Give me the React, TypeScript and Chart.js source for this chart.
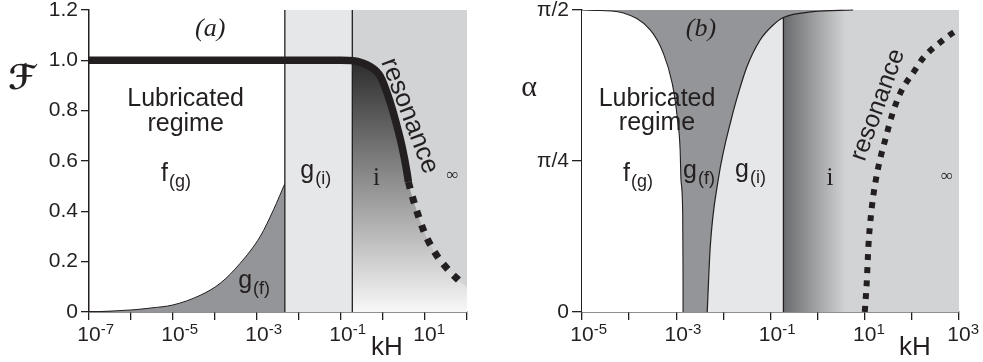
import { useEffect, useRef } from 'react';
import { Chart, registerables } from 'chart.js';

Chart.register(...registerables);

// ---------- shared styling ----------
const INK = '#231f20';
const DARK_GRAY = '#939598';
const LIGHT_GRAY = '#e6e7e8';
const MID_GRAY = '#d1d3d4';
const SANS = '"Liberation Sans", Arial, Helvetica, sans-serif';
const SERIF = '"Liberation Serif", "DejaVu Serif", "Times New Roman", serif';
const SCRIPT = '"DejaVu Serif", "DejaVu Sans", serif';
const TICK_SIZE = 21;
const TICK_LEN = 8;
const TICK_PAD = 3;

// ---------- panel (a) data ----------
const aXTickExponents = [-7, -6, -5, -4, -3, -2, -1, 0, 1, 2];
const aXLabelExponents = [-7, -5, -3, -1, 1];
const aYTickValues = [0, 0.2, 0.4, 0.6, 0.8, 1.0, 1.2];
const aYTickLabels = ['0', '0.2', '0.4', '0.6', '0.8', '1.0', '1.2'];
const aXMin = 1e-7;
const aXMax = 1e2;
const aYMax = 1.2;

// F(kH): solid part
const aForceKH = [1e-7, 1e-3, 0.1, 0.196, 0.316, 0.5, 0.865, 1.34, 1.97, 2.84, 3.74, 4.02];
const aForceF = [1.0, 1.0, 1.0, 0.998, 0.99, 0.975, 0.936, 0.856, 0.763, 0.657, 0.553, 0.517];
// F(kH): resonance (dotted) part
const aResonanceKH = [4.02, 5.28, 9.16, 13.5, 20.9, 36.1, 69.8];
const aResonanceF = [0.517, 0.445, 0.326, 0.266, 0.215, 0.167, 0.119];
const aEdgeF = 0.1; // shaded boundary at the right edge
// g(f) boundary
const aGfKH = [1e-7, 1e-6, 3e-6, 1e-5, 4.4e-5, 1.33e-4, 4e-4, 1.19e-3, 2.47e-3, 4.6e-3];
const aGfF = [0.0, 0.008, 0.016, 0.028, 0.066, 0.114, 0.194, 0.3, 0.406, 0.51];
// regime boundaries g(f)|g(i) and g(i)|i
const aRegimeBounds = [4.6e-3, 0.186];

// ---------- panel (b) data ----------
const bXTickExponents = [-5, -4, -3, -2, -1, 0, 1, 2, 3];
const bXLabelExponents = [-5, -3, -1, 1, 3];
const bYTickValues = [0, 0.7853981634, 1.5707963268];
const bYTickLabels = ['0', 'π/4', 'π/2'];
const bXMin = 1e-5;
const bXMax = 1e3;
const bYMax = 1.5707963268;

// f(g) | g(f) boundary
const bLeftKH = [1e-5, 2.45e-5, 7.6e-5, 2.8e-4, 5.3e-4, 8.2e-4, 1.05e-3, 1.21e-3, 1.26e-3, 1.37e-3, 1.39e-3, 1.395e-3];
const bLeftAlpha = [1.5708, 1.568, 1.555, 1.467, 1.347, 1.19, 1.014, 0.842, 0.687, 0.515, 0.25, 0];
// g(f) | g(i) boundary, continuing along the top
const bRightKH = [4.54e-3, 5.26e-3, 7.76e-3, 0.0151, 0.0228, 0.0316, 0.0603, 0.114, 0.188, 0.8, 5.66];
const bRightAlpha = [0, 0.338, 0.687, 1.014, 1.17, 1.276, 1.415, 1.493, 1.532, 1.562, 1.5708];
// g(i) | i boundary
const bRegimeBound = 0.188;
// resonance curve
const bResonanceKH = [10, 11, 12, 13.5, 15.5, 18.2, 21.4, 27.5, 38, 56.9, 117, 174, 513, 912];
const bResonanceAlpha = [0, 0.15, 0.35, 0.5, 0.62, 0.72, 0.8, 0.9, 1.025, 1.139, 1.259, 1.321, 1.424, 1.467];

// ---------- helpers ----------
type Pt = { x: number; y: number };
const pts = (xs: number[], ys: number[]): Pt[] => xs.map((x, i) => ({ x, y: ys[i] }));

type Label = {
  text: string;
  sub?: string;
  x: number;
  y: number;
  pixel?: boolean;
  font: string;
  subFont?: string;
  subDy?: number;
  align?: CanvasTextAlign;
  baseline?: CanvasTextBaseline;
  rotate?: number;
};

function overlayPlugin(id: string, labels: Label[], tickExps: number[], labelExps: number[]) {
  return {
    id,
    afterDraw(chart: any) {
      const ctx: CanvasRenderingContext2D = chart.ctx;
      const xs = chart.scales.x;
      const ys = chart.scales.y;
      ctx.save();
      ctx.fillStyle = INK;
      // exponents of the x tick labels
      ctx.font = `${TICK_SIZE}px ${SANS}`;
      const half = ctx.measureText('10').width / 2;
      const mid = xs.top + TICK_LEN + TICK_PAD + (TICK_SIZE * 1.2) / 2;
      ctx.font = `15px ${SANS}`;
      ctx.textAlign = 'left';
      ctx.textBaseline = 'middle';
      tickExps.forEach((e) => {
        if (!labelExps.includes(e)) return;
        const px = xs.getPixelForValue(Math.pow(10, e));
        ctx.fillText(String(e), px + half, mid - 6);
      });
      // annotations
      for (const l of labels) {
        const px = l.pixel ? l.x : xs.getPixelForValue(l.x);
        const py = l.pixel ? l.y : ys.getPixelForValue(l.y);
        ctx.save();
        ctx.translate(px, py);
        if (l.rotate) ctx.rotate((l.rotate * Math.PI) / 180);
        ctx.font = l.font;
        ctx.textAlign = l.align ?? 'left';
        ctx.textBaseline = l.baseline ?? 'alphabetic';
        ctx.fillText(l.text, 0, 0);
        if (l.sub) {
          const w = ctx.measureText(l.text).width;
          ctx.font = l.subFont ?? l.font;
          ctx.textAlign = 'left';
          ctx.fillText(l.sub, w + 1, l.subDy ?? 6);
        }
        ctx.restore();
      }
      ctx.restore();
    },
  };
}

function axes(opts: {
  xMin: number; xMax: number; yMax: number; tickExps: number[]; labelExps: number[];
  yTicks: number[]; yLabels: string[]; yWidth: number; yTickLen: number;
}) {
  const grid = { drawOnChartArea: false, drawTicks: true, color: INK, lineWidth: 1.3 };
  const border = { display: true, color: INK, width: 1.5 };
  return {
    x: {
      type: 'logarithmic',
      position: 'bottom',
      min: opts.xMin,
      max: opts.xMax,
      afterBuildTicks: (s: any) => {
        s.ticks = opts.tickExps.map((e) => ({ value: Math.pow(10, e) }));
      },
      afterFit: (s: any) => {
        s.height = 50;
        s.paddingLeft = 0;
        s.paddingRight = 0;
      },
      ticks: {
        autoSkip: false,
        maxRotation: 0,
        minRotation: 0,
        padding: TICK_PAD,
        color: INK,
        font: { family: SANS, size: TICK_SIZE },
        callback: (_v: any, i: number) => (opts.labelExps.includes(opts.tickExps[i]) ? '10' : ''),
      },
      grid: { ...grid, tickLength: TICK_LEN },
      border,
    },
    y: {
      type: 'linear',
      min: 0,
      max: opts.yMax,
      afterBuildTicks: (s: any) => {
        s.ticks = opts.yTicks.map((v) => ({ value: v }));
      },
      afterFit: (s: any) => {
        s.width = opts.yWidth;
        s.paddingTop = 0;
        s.paddingBottom = 0;
      },
      ticks: {
        padding: TICK_PAD,
        color: INK,
        font: { family: SANS, size: TICK_SIZE },
        callback: (_v: any, i: number) => opts.yLabels[i],
      },
      grid: { ...grid, tickLength: opts.yTickLen },
      border,
    },
  };
}

const baseLine = { pointRadius: 0, pointHoverRadius: 0, borderWidth: 0, fill: false, cubicInterpolationMode: 'monotone' };

function configA(): any {
  const gradient = (c: any) => {
    const chart = c.chart;
    if (!chart.chartArea) return '#888888';
    const y = chart.scales.y;
    const g = chart.ctx.createLinearGradient(0, y.getPixelForValue(1.0), 0, y.getPixelForValue(0));
    g.addColorStop(0, '#2c2c2d');
    g.addColorStop(1, '#f8f8f8');
    return g;
  };
  const shaded = [
    ...pts(aForceKH, aForceF).filter((p) => p.x > aRegimeBounds[0]),
    ...pts(aResonanceKH, aResonanceF).slice(1),
    { x: aXMax, y: aEdgeF },
  ];
  const datasets = [
    { ...baseLine, data: [{ x: aRegimeBounds[1], y: aYMax }, { x: aXMax, y: aYMax }], fill: 'origin', backgroundColor: MID_GRAY, order: 20 },
    { ...baseLine, data: shaded, fill: 'origin', backgroundColor: gradient, order: 19 },
    { ...baseLine, data: [{ x: aRegimeBounds[0], y: aYMax }, { x: aRegimeBounds[1], y: aYMax }], fill: 'origin', backgroundColor: LIGHT_GRAY, order: 18 },
    { ...baseLine, data: pts(aGfKH, aGfF), fill: 'origin', backgroundColor: DARK_GRAY, borderColor: INK, borderWidth: 1, order: 17 },
    ...aRegimeBounds.map((b) => ({ ...baseLine, data: [{ x: b, y: 0 }, { x: b, y: aYMax }], borderColor: INK, borderWidth: 1.3, order: 5 })),
    { ...baseLine, data: pts(aForceKH, aForceF), borderColor: INK, borderWidth: 7.5, borderCapStyle: 'butt', borderJoinStyle: 'round', order: 2 },
    { ...baseLine, data: pts(aResonanceKH, aResonanceF), borderColor: INK, borderWidth: 7, borderDash: [7, 8], borderCapStyle: 'butt', order: 1 },
  ];
  const sub = `18px ${SANS}`;
  const main = `25px ${SANS}`;
  const labels: Label[] = [
    { text: '(a)', x: 7.66e-5, y: 1.125, font: `italic 26px ${SERIF}`, align: 'center', baseline: 'middle' },
    { text: 'Lubricated', x: 2.0e-5, y: 0.819, font: main, align: 'center' },
    { text: 'regime', x: 2.0e-5, y: 0.72, font: main, align: 'center' },
    { text: 'f', sub: '(g)', x: 5.2e-6, y: 0.521, font: main, subFont: sub, subDy: 6 },
    { text: 'g', sub: '(f)', x: 3.56e-4, y: 0.0954, font: main, subFont: sub, subDy: 6 },
    { text: 'g', sub: '(i)', x: 0.0107, y: 0.533, font: main, subFont: sub, subDy: 6 },
    { text: 'i', x: 0.695, y: 0.505, font: `25px ${SERIF}`, align: 'center' },
    { text: '∞', x: 45, y: 0.541, font: `17px ${SERIF}`, align: 'center', baseline: 'middle' },
    { text: 'resonance', x: 4.25, y: 0.779, font: `26px ${SANS}`, align: 'center', baseline: 'middle', rotate: 69 },
    { text: 'ℱ', x: 22, y: 80, pixel: true, font: `bold 34px ${SCRIPT}`, align: 'center', baseline: 'middle' },
    { text: 'kH', x: 387, y: 355, pixel: true, font: `26px ${SANS}`, align: 'center' },
  ];
  return {
    type: 'line',
    data: { datasets },
    options: {
      responsive: false,
      animation: false,
      events: [],
      layout: { padding: { top: 10, right: 23, bottom: 0, left: 0 } },
      plugins: { legend: { display: false }, tooltip: { enabled: false } },
      scales: axes({ xMin: aXMin, xMax: aXMax, yMax: aYMax, tickExps: aXTickExponents, labelExps: aXLabelExponents, yTicks: aYTickValues, yLabels: aYTickLabels, yWidth: 89, yTickLen: 8 }),
    },
    plugins: [overlayPlugin('overlayA', labels, aXTickExponents, aXLabelExponents)],
  };
}

function configB(): any {
  const gradient = (c: any) => {
    const chart = c.chart;
    if (!chart.chartArea) return MID_GRAY;
    const x = chart.scales.x;
    const g = chart.ctx.createLinearGradient(x.getPixelForValue(bRegimeBound), 0, x.getPixelForValue(4), 0);
    g.addColorStop(0, '#6a6b6e');
    g.addColorStop(1, MID_GRAY);
    return g;
  };
  const right = pts(bRightKH, bRightAlpha);
  const boundTop = right.find((p) => p.x === bRegimeBound)!.y;
  const datasets = [
    { ...baseLine, data: [{ x: bXMin, y: bYMax }, { x: bRightKH[bRightKH.length - 1], y: bYMax }], fill: 'origin', backgroundColor: DARK_GRAY, order: 20 },
    { ...baseLine, data: pts(bLeftKH, bLeftAlpha), fill: 'origin', backgroundColor: '#ffffff', borderColor: INK, borderWidth: 1.1, order: 19 },
    { ...baseLine, data: [...right, { x: bXMax, y: bYMax }], fill: 'origin', backgroundColor: gradient, order: 18 },
    { ...baseLine, data: right.filter((p) => p.x <= bRegimeBound), fill: 'origin', backgroundColor: LIGHT_GRAY, order: 17 },
    { ...baseLine, data: right, borderColor: INK, borderWidth: 1.2, clip: false, order: 5 },
    { ...baseLine, data: [{ x: bRegimeBound, y: 0 }, { x: bRegimeBound, y: boundTop }], borderColor: INK, borderWidth: 1.3, order: 5 },
    { ...baseLine, data: pts(bResonanceKH, bResonanceAlpha), borderColor: INK, borderWidth: 6, borderDash: [6, 7], borderCapStyle: 'butt', order: 1 },
  ];
  const sub = `18px ${SANS}`;
  const main = `25px ${SANS}`;
  const labels: Label[] = [
    { text: '(b)', x: 3.35e-3, y: 1.472, font: `italic 26px ${SERIF}`, align: 'center', baseline: 'middle' },
    { text: 'Lubricated', x: 3.91e-4, y: 1.0715, font: main, align: 'center' },
    { text: 'regime', x: 3.91e-4, y: 0.9466, font: main, align: 'center' },
    { text: 'f', sub: '(g)', x: 7.4e-5, y: 0.681, font: main, subFont: sub, subDy: 6 },
    { text: 'g', sub: '(f)', x: 1.39e-3, y: 0.697, font: main, subFont: sub, subDy: 6 },
    { text: 'g', sub: '(i)', x: 0.0177, y: 0.702, font: main, subFont: sub, subDy: 6 },
    { text: 'i', x: 1.83, y: 0.66, font: `25px ${SERIF}`, align: 'center' },
    { text: '∞', x: 556, y: 0.707, font: `17px ${SERIF}`, align: 'center', baseline: 'middle' },
    { text: 'resonance', x: 19.1, y: 1.077, font: `25px ${SANS}`, align: 'center', baseline: 'middle', rotate: -70 },
    { text: 'α', x: 39, y: 88, pixel: true, font: `30px ${SERIF}`, align: 'center', baseline: 'middle' },
    { text: 'kH', x: 425, y: 355, pixel: true, font: `26px ${SANS}`, align: 'center' },
  ];
  return {
    type: 'line',
    data: { datasets },
    options: {
      responsive: false,
      animation: false,
      events: [],
      layout: { padding: { top: 10, right: 24, bottom: 0, left: 0 } },
      plugins: { legend: { display: false }, tooltip: { enabled: false } },
      scales: axes({ xMin: bXMin, xMax: bXMax, yMax: bYMax, tickExps: bXTickExponents, labelExps: bXLabelExponents, yTicks: bYTickValues, yLabels: bYTickLabels, yWidth: 92, yTickLen: 10 }),
    },
    plugins: [overlayPlugin('overlayB', labels, bXTickExponents, bXLabelExponents)],
  };
}

export default function App() {
  const refA = useRef<HTMLCanvasElement>(null);
  const refB = useRef<HTMLCanvasElement>(null);
  useEffect(() => {
    const a = new Chart(refA.current!, configA());
    const b = new Chart(refB.current!, configB());
    return () => {
      a.destroy();
      b.destroy();
    };
  }, []);
  return (
    <div style={{ position: 'absolute', left: 0, top: 0, width: 983, height: 362, background: '#ffffff', overflow: 'hidden' }}>
      <canvas ref={refA} width={490} height={362} style={{ position: 'absolute', left: 0, top: 0 }} />
      <canvas ref={refB} width={493} height={362} style={{ position: 'absolute', left: 490, top: 0 }} />
    </div>
  );
}
